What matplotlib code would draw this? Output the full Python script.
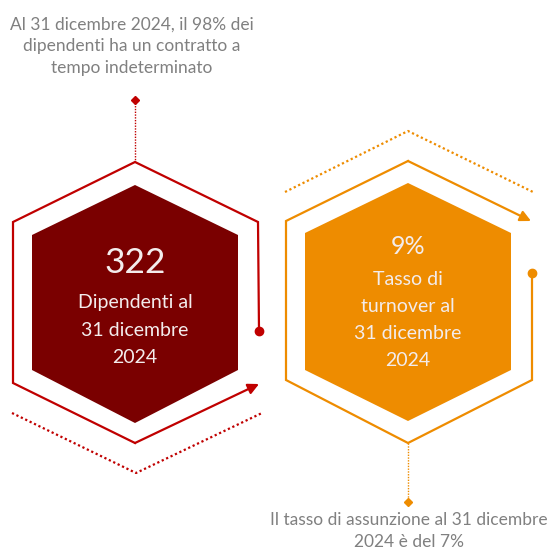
import numpy as np
import matplotlib.pyplot as plt

# contenuto del grafico
valori = ['322', '9%']
etichette = ['Dipendenti al\n31 dicembre\n2024', 'Tasso di\nturnover al\n31 dicembre\n2024']
note = ['Al 31 dicembre 2024, il 98% dei\ndipendenti ha un contratto a\ntempo indeterminato',
        'Il tasso di assunzione al 31 dicembre\n2024 è del 7%']

rosso_scuro = '#7A0000'
rosso = '#C00000'
arancio = '#EE8C00'
grigio = '#808080'
bianco = '#F3ECEC'

plt.rcParams['font.family'] = ['Lato', 'DejaVu Sans']

fig = plt.figure(figsize=(5.51, 5.49), dpi=100)
ax = fig.add_axes([0, 0, 1, 1])
ax.set_xlim(0, 551)
ax.set_ylim(549, 0)
ax.axis('off')


def esagono(cx, top, spalla1, spalla2, bottom, w):
    return np.array([[cx, top], [cx + w, spalla1], [cx + w, spalla2],
                     [cx, bottom], [cx - w, spalla2], [cx - w, spalla1]])


def freccia(p0, p1, col):
    ax.annotate('', xy=p1, xytext=p0,
                arrowprops=dict(arrowstyle='-|>', mutation_scale=16, lw=1.6,
                                color=col, shrinkA=0, shrinkB=0))


# ---- esagono sinistro (rosso)
inn = esagono(135, 185, 235, 370, 423, 103)
ax.fill(inn[:, 0], inn[:, 1], color=rosso_scuro, lw=0)

px = [259, 258, 135, 13, 13, 135]
py = [331, 222, 162, 222, 383, 443]
ax.plot(px, py, color=rosso, lw=1.6, solid_joinstyle='miter')
freccia((135, 443), (259, 384), rosso)
ax.plot(259, 331, 'o', color=rosso, ms=6)

# linea tratteggiata sotto
ax.plot([12, 136, 262], [413, 473, 413], color=rosso, lw=1.6, ls=(0, (1, 1.2)))
# linea verticale verso la nota
ax.plot([135, 135], [100, 162], color=rosso, lw=1.0, ls=(0, (1, 1)))
ax.plot(135, 100, 'D', color=rosso, ms=4.5)

ax.text(135, 263, valori[0], color=bianco, fontsize=25.5, ha='center', va='center')
ax.text(135, 330, etichette[0], color=bianco, fontsize=14, ha='center', va='center',
        linespacing=1.72)

# ---- esagono destro (arancio)
inn = esagono(408, 183, 233, 370, 421, 103)
ax.fill(inn[:, 0], inn[:, 1], color=arancio, lw=0)

px = [532, 532, 408, 286, 286, 408]
py = [273, 380, 443, 380, 221, 161]
ax.plot(px, py, color=arancio, lw=1.6, solid_joinstyle='miter')
freccia((408, 161), (531, 221), arancio)
ax.plot(532, 273, 'o', color=arancio, ms=6)

ax.plot([285, 408, 533], [192, 131, 192], color=arancio, lw=1.6, ls=(0, (1, 1.2)))
ax.plot([408, 408], [443, 502], color=arancio, lw=1.0, ls=(0, (1, 1)))
ax.plot(408, 502, 'D', color=arancio, ms=4.5)

ax.text(408, 247, valori[1], color=bianco, fontsize=18, ha='center', va='center')
ax.text(408, 320, etichette[1], color=bianco, fontsize=14, ha='center', va='center',
        linespacing=1.72)

# ---- note
ax.text(132, 46, note[0], color=grigio, fontsize=12.5, ha='center', va='center',
        linespacing=1.45)
ax.text(409, 531, note[1], color=grigio, fontsize=12.5, ha='center', va='center',
        linespacing=1.4)

fig.savefig('out.png', dpi=100)
